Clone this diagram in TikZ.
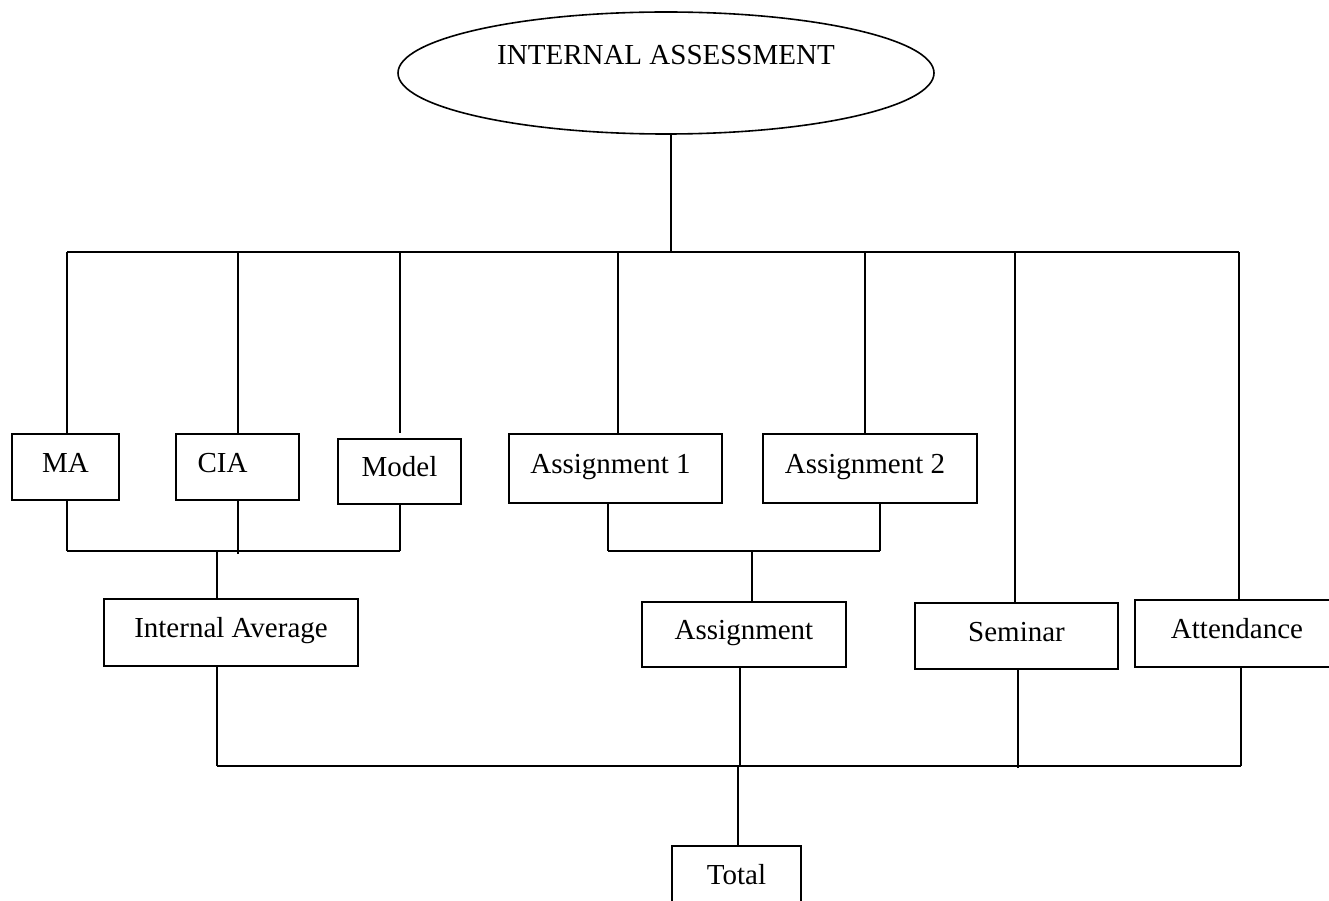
\documentclass[tikz,border=0pt]{standalone}
\usepackage{fontspec}
\setmainfont{Liberation Serif}
\usetikzlibrary{shapes.geometric}
\tikzset{
  every node/.style={font=\fontsize{29pt}{34pt}\selectfont, inner sep=0pt},
  lbox/.style={draw, rectangle, line width=1.6pt, text height=20pt, text depth=10pt},
  conn/.style={line width=1.6pt},
}
\begin{document}
\begin{tikzpicture}[x=1pt,y=-1pt]
\useasboundingbox (0,0) rectangle (1329,901);
% nodes
\node[draw, ellipse, line width=1.6pt, minimum width=536pt, minimum height=122pt,
      text height=20pt, text depth=36pt] (top) at (666,73) {INTERNAL ASSESSMENT};
\node[lbox, minimum width=107pt, minimum height=66pt] (ma) at (65.5,467) {MA};
\node[lbox, minimum width=123pt, minimum height=66pt] (cia) at (237.5,467) {CIA\hspace*{30pt}};
\node[lbox, minimum width=123pt, minimum height=65pt] (model) at (399.5,471.5) {Model};
\node[lbox, minimum width=213pt, minimum height=69pt] (a1) at (615.5,468.5) {Assignment 1\hspace*{10pt}};
\node[lbox, minimum width=214pt, minimum height=69pt] (a2) at (870,468.5) {Assignment 2\hspace*{10pt}};
\node[lbox, minimum width=254pt, minimum height=67pt] (iavg) at (231,632.5) {Internal Average};
\node[lbox, minimum width=204pt, minimum height=65pt] (asg) at (744,634.5) {Assignment};
\node[lbox, minimum width=203pt, minimum height=66pt] (sem) at (1016.5,636) {Seminar};
\node[lbox, minimum width=204pt, minimum height=67pt] (att) at (1237,633.5) {Attendance};
\node[lbox, minimum width=129pt, minimum height=67pt] (tot) at (736.5,879.5) {Total};
% helper coordinates
\coordinate (topbus) at (0,252);
\coordinate (midbus) at (0,551);
\coordinate (lowbus) at (0,766);
\coordinate (cTop) at (671,0);
\coordinate (cMA) at (67,0);
\coordinate (cCIA) at (238,0);
\coordinate (cMod) at (400,0);
\coordinate (cA1) at (618,0);
\coordinate (cA2) at (865,0);
\coordinate (cSem) at (1015,0);
\coordinate (cAtt) at (1239,0);
\coordinate (modend) at (400,433);
\coordinate (dIA) at (217,0);
\coordinate (dA1) at (608,0);
\coordinate (dA2) at (880,0);
\coordinate (dAs) at (752,0);
\coordinate (dAsB) at (740,0);
\coordinate (dSem) at (1018,0);
\coordinate (dAtt) at (1241,0);
\coordinate (dTot) at (738,0);
\coordinate (ciaend) at (238,554);
\coordinate (semend) at (1018,768);
% top level
\draw[conn] (cTop |- top.south) -- (cTop |- topbus);
\draw[conn] (cMA |- topbus) -- (cAtt |- topbus);
\draw[conn] (cMA |- topbus) -- (cMA |- ma.north);
\draw[conn] (cCIA |- topbus) -- (cCIA |- cia.north);
\draw[conn] (cMod |- topbus) -- (modend);
\draw[conn] (cA1 |- topbus) -- (cA1 |- a1.north);
\draw[conn] (cA2 |- topbus) -- (cA2 |- a2.north);
\draw[conn] (cSem |- topbus) -- (cSem |- sem.north);
\draw[conn] (cAtt |- topbus) -- (cAtt |- att.north);
% first group
\draw[conn] (cMA |- ma.south) -- (cMA |- midbus);
\draw[conn] (cCIA |- cia.south) -- (ciaend);
\draw[conn] (cMod |- model.south) -- (cMod |- midbus);
\draw[conn] (cMA |- midbus) -- (cMod |- midbus);
\draw[conn] (dIA |- midbus) -- (dIA |- iavg.north);
% second group
\draw[conn] (dA1 |- a1.south) -- (dA1 |- midbus);
\draw[conn] (dA2 |- a2.south) -- (dA2 |- midbus);
\draw[conn] (dA1 |- midbus) -- (dA2 |- midbus);
\draw[conn] (dAs |- midbus) -- (dAs |- asg.north);
% bottom
\draw[conn] (dIA |- iavg.south) -- (dIA |- lowbus);
\draw[conn] (dAsB |- asg.south) -- (dAsB |- lowbus);
\draw[conn] (dSem |- sem.south) -- (semend);
\draw[conn] (dAtt |- att.south) -- (dAtt |- lowbus);
\draw[conn] (dIA |- lowbus) -- (dAtt |- lowbus);
\draw[conn] (dTot |- lowbus) -- (dTot |- tot.north);
\end{tikzpicture}
\end{document}
